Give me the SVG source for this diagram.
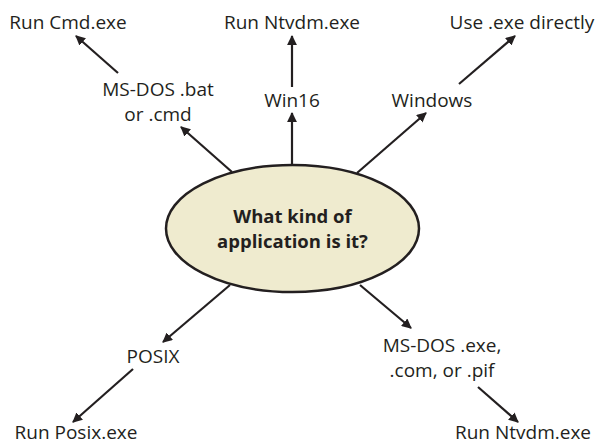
<svg xmlns="http://www.w3.org/2000/svg" width="601" height="444" viewBox="0 0 601 444">
<style>
text{font-family:"Open Sans","Noto Sans","Liberation Sans",sans-serif;font-size:19px;fill:#231f20;text-anchor:middle}
.b{font-weight:bold;font-size:18.5px}
.c{stroke:#231f20;stroke-width:2.2;fill:none;marker-end:url(#ah)}
</style>
<defs>
<marker id="ah" viewBox="0 0 10 10" refX="9" refY="5" markerWidth="4.5" markerHeight="4.5" orient="auto" markerUnits="strokeWidth">
<path d="M0,0 L10,5 L0,10 z" fill="#231f20"/>
</marker>
</defs>
<rect width="601" height="444" fill="#ffffff"/>
<g id="connectors">
<line class="c" x1="118" y1="73" x2="76" y2="36"/>
<line class="c" x1="232" y1="172" x2="181" y2="127"/>
<line class="c" x1="292" y1="165" x2="292" y2="113"/>
<line class="c" x1="292" y1="87" x2="292" y2="36"/>
<line class="c" x1="357" y1="173" x2="426" y2="113"/>
<line class="c" x1="459" y1="84" x2="515" y2="36"/>
<line class="c" x1="230" y1="285" x2="163" y2="342"/>
<line class="c" x1="133" y1="369" x2="73" y2="422"/>
<line class="c" x1="360" y1="285" x2="411" y2="328"/>
<line class="c" x1="478" y1="387" x2="518" y2="422"/>
</g>
<g id="center">
<ellipse cx="292.5" cy="228.5" rx="126.5" ry="63.5" fill="#efebcf" stroke="#231f20" stroke-width="2.5"/>
<text class="b" x="292.5" y="223">What kind of</text>
<text class="b" x="292.5" y="248">application is it?</text>
</g>
<g id="run-cmd"><text x="68" y="29">Run Cmd.exe</text></g>
<g id="run-ntvdm-top"><text x="292" y="29">Run Ntvdm.exe</text></g>
<g id="use-exe"><text x="522" y="29">Use .exe directly</text></g>
<g id="msdos-bat"><text x="158" y="96">MS-DOS .bat</text><text x="158" y="121">or .cmd</text></g>
<g id="win16"><text x="292" y="107">Win16</text></g>
<g id="windows"><text x="432" y="107">Windows</text></g>
<g id="posix"><text x="153" y="363">POSIX</text></g>
<g id="run-posix"><text x="76" y="439">Run Posix.exe</text></g>
<g id="msdos-exe"><text x="442" y="352">MS-DOS .exe,</text><text x="442" y="377">.com, or .pif</text></g>
<g id="run-ntvdm-bottom"><text x="523" y="439">Run Ntvdm.exe</text></g>
</svg>
